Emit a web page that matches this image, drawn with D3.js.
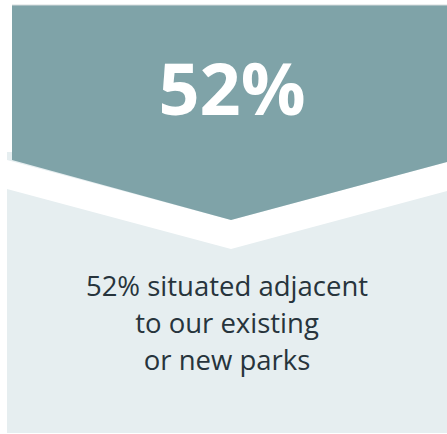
<!DOCTYPE html>
<html>
<head>
<meta charset="utf-8">
<script src="https://cdn.jsdelivr.net/npm/d3@7"></script>
<style>
  html, body { margin: 0; padding: 0; background: #fff; }
  svg { display: block; }
</style>
</head>
<body>
<div id="chart"></div>
<script>
// values
var percent = [52];
var captionLines = ["52% situated adjacent", "to our existing", "or new parks"];

var width = 447, height = 434;
var teal = "#7fa3a8", light = "#e6eef0", textColor = "#27343c";

var svg = d3.select("#chart").append("svg")
	.attr("width", width)
	.attr("height", height);

// light panel behind everything
svg.append("rect")
	.attr("x", 7).attr("y", 152)
	.attr("width", width - 7).attr("height", height - 152 - 1)
	.attr("fill", light);

// chevron banner
var tipX = 231, tipY = 220, leftY = 160, rightY = 162, band = 29;
var line = d3.line();

svg.append("path")
	.attr("d", line([[7, leftY], [tipX, tipY], [width, rightY], [width, rightY + band], [tipX, tipY + band], [7, leftY + band]]) + "Z")
	.attr("fill", "#fff");

svg.append("path")
	.attr("d", line([[12, 5], [width, 5], [width, rightY], [tipX, tipY], [12, leftY]]) + "Z")
	.attr("fill", teal);

svg.append("line")
	.attr("x1", 12).attr("x2", width)
	.attr("y1", 5).attr("y2", 5)
	.attr("stroke", "#d6dcdd").attr("stroke-width", 1);

// big number
svg.selectAll(".big")
	.data(percent)
	.enter().append("text")
	.attr("class", "big")
	.attr("x", 232).attr("y", 115)
	.attr("text-anchor", "middle")
	.attr("fill", "#fff")
	.style("font-family", "'Open Sans', sans-serif")
	.style("font-weight", "bold")
	.style("font-size", "72px")
	.text(function(d) { return d + "%"; });

// caption
var y = d3.scalePoint().domain(d3.range(captionLines.length)).range([296, 370]);

svg.selectAll(".cap")
	.data(captionLines)
	.enter().append("text")
	.attr("class", "cap")
	.attr("x", 227)
	.attr("y", function(d, i) { return y(i); })
	.attr("text-anchor", "middle")
	.attr("fill", textColor)
	.style("font-family", "'Open Sans', sans-serif")
	.style("font-size", "27.5px")
	.text(function(d) { return d; });
</script>
</body>
</html>
